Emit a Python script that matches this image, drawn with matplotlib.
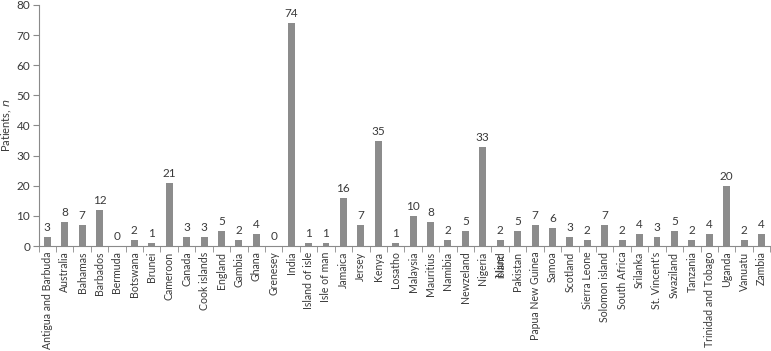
import numpy as np
import matplotlib.pyplot as plt

countries = ['Antigua and Barbuda', 'Australia', 'Bahamas', 'Barbados', 'Bermuda',
             'Botswana', 'Brunei', 'Cameroon', 'Canada', 'Cook islands', 'England',
             'Gambia', 'Ghana', 'Grenesey', 'India', 'Island of isle', 'Isle of man',
             'Jamaica', 'Jersey', 'Kenya', 'Losatho', 'Malaysia', 'Mauritius',
             'Namibia', 'Newzeland', 'Nigeria', 'Niue\nisland', 'Pakistan',
             'Papua New Guinea', 'Samoa', 'Scotland', 'Sierra Leone', 'Solomon island',
             'South Africa', 'Srilanka', "St. Vincent's", 'Swaziland', 'Tanzania',
             'Trinidad and Tobago', 'Uganda', 'Vanuatu', 'Zambia']
patients = [3, 8, 7, 12, 0, 2, 1, 21, 3, 3, 5, 2, 4, 0, 74, 1, 1, 16, 7, 35, 1, 10, 8,
            2, 5, 33, 2, 5, 7, 6, 3, 2, 7, 2, 4, 3, 5, 2, 4, 20, 2, 4]

plt.rcParams['font.family'] = ['Lato', 'DejaVu Sans']
axis_col = '#8a8a8a'
text_col = '#3a3a3a'

fig, ax = plt.subplots(figsize=(7.71, 3.51), dpi=100)
fig.subplots_adjust(left=0.05, right=0.999, top=0.986, bottom=0.299)

x = np.arange(len(countries))
ax.bar(x, patients, width=0.4, color='#8c8c8c')
for xi, v in zip(x, patients):
    ax.text(xi, v + 1.3, str(v), ha='center', va='bottom', fontsize=8.5, color=text_col)

ax.set_xlim(-0.5, len(countries) - 0.5)
ax.set_ylim(0, 80)
ax.set_yticks(range(0, 81, 10))
ax.set_xticks(x)
ax.set_xticklabels(countries, rotation=90, fontsize=7.6, color=text_col, linespacing=0.0)
ax.set_xticks(np.arange(-0.5, len(countries), 1), minor=True)
ax.tick_params(axis='x', which='major', length=0, pad=4)
ax.tick_params(axis='x', which='minor', length=4, color=axis_col, direction='out')
ax.tick_params(axis='y', labelsize=8.5, colors=text_col, color=axis_col, length=4, pad=2)
ax.set_ylabel('Patients, $\\it{n}$', fontsize=8, color=text_col, labelpad=2)

for s in ['top', 'right']:
    ax.spines[s].set_visible(False)
for s in ['left', 'bottom']:
    ax.spines[s].set_color(axis_col)

fig.savefig('out.png')
